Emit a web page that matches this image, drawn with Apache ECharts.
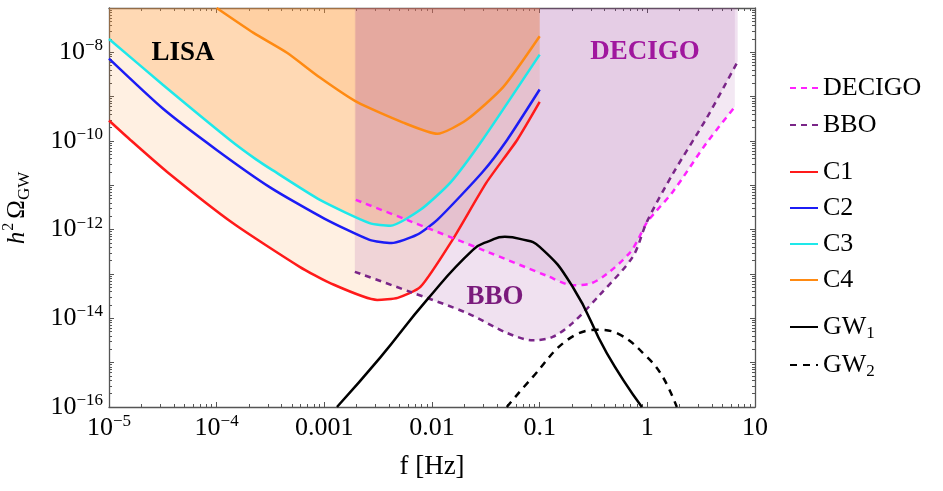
<!DOCTYPE html>
<html>
<head>
<meta charset="utf-8">
<script src="https://cdn.jsdelivr.net/npm/echarts@6/dist/echarts.min.js"></script>
<style>
  html, body { margin: 0; padding: 0; background: #fff; }
  #chart { width: 943px; height: 491px; }
</style>
</head>
<body>
<div id="chart"></div>
<script>
// ---- data ----
var xTickValues = [1e-5, 1e-4, 1e-3, 1e-2, 0.1, 1, 10];
var xTickLabels = ['10^-5', '10^-4', '0.001', '0.01', '0.1', '1', '10'];
var yTickValues = [1e-16, 1e-14, 1e-12, 1e-10, 1e-8];
var yTickLabels = ['10^-16', '10^-14', '10^-12', '10^-10', '10^-8'];

var c1Freq = [1e-5, 1.57e-5, 3.47e-5, 1.41e-4, 5.9e-4, 1.12e-3, 3.1e-3, 4.8e-3, 7.8e-3, 0.0155, 0.032, 0.062, 0.1];
var c1Val = [2.9e-10, 1.07e-10, 2.0e-11, 1.41e-12, 1.45e-13, 6.3e-14, 2.6e-14, 2.9e-14, 5.1e-14, 5.9e-13, 1.15e-11, 1.07e-10, 7.6e-10];

var c2Freq = [1e-5, 3.16e-5, 1e-4, 3.16e-4, 1e-3, 2.63e-3, 4.2e-3, 7.2e-3, 0.0112, 0.0295, 0.05, 0.1];
var c2Val = [7.2e-9, 5.4e-10, 6.3e-11, 8.9e-12, 1.78e-12, 5.9e-13, 5.0e-13, 7.6e-13, 1.66e-12, 2.0e-11, 1.07e-10, 1.45e-9];

var c3Freq = [1e-5, 3.16e-5, 1.32e-4, 2.34e-4, 3.3e-4, 9.1e-4, 2.63e-3, 4.1e-3, 7.8e-3, 0.0148, 0.0295, 0.1];
var c3Val = [2.0e-8, 1.86e-9, 1.07e-10, 3.8e-11, 2.2e-11, 4.7e-12, 1.41e-12, 1.23e-12, 2.8e-12, 1.15e-11, 1.07e-10, 8.9e-9];

var c4Freq = [1e-4, 2.2e-4, 4.5e-4, 9.1e-4, 2.0e-3, 5.4e-3, 0.0112, 0.021, 0.046, 0.1];
var c4Val = [1.0e-7, 2.75e-8, 9.8e-9, 2.7e-9, 7.6e-10, 2.6e-10, 1.45e-10, 3.0e-10, 1.66e-9, 2.3e-8];

var decigoFreq = [1.96e-3, 5.85e-3, 0.0324, 0.117, 0.203, 0.292, 0.42, 0.687, 0.834, 1.0, 1.72, 3.56, 6.5];
var decigoVal = [4.7e-12, 1.66e-12, 3.2e-13, 9.1e-14, 5.6e-14, 6.0e-14, 1.0e-13, 3.0e-13, 6.5e-13, 1.5e-12, 7.1e-12, 9.1e-11, 5.9e-10];

var bboFreq = [1.92e-3, 6.2e-3, 0.0211, 0.0495, 0.0865, 0.132, 0.203, 0.362, 0.733, 0.99, 1.72, 3.56, 6.9];
var bboVal = [1.12e-13, 4.0e-14, 1.32e-14, 4.7e-15, 3.2e-15, 3.8e-15, 7.9e-15, 3.4e-14, 2.45e-13, 1.5e-12, 1.8e-11, 3.3e-10, 6.2e-9];

var gw1Freq = [1.31e-3, 3.3e-3, 8.97e-3, 0.024, 0.0344, 0.0475, 0.0655, 0.1, 0.203, 0.42, 0.89];
var gw1Val = [1e-16, 1.3e-15, 2.6e-14, 3.5e-13, 5.6e-13, 6.9e-13, 6.2e-13, 4.1e-13, 5.1e-14, 1.65e-15, 1e-16];

var gw2Freq = [0.0495, 0.0865, 0.179, 0.34, 0.556, 0.99, 1.39, 1.88];
var gw2Val = [1e-16, 4.8e-16, 3.2e-15, 5.5e-15, 4.3e-15, 1.35e-15, 4.8e-16, 1e-16];

// ---- helpers ----
var FONT = 'Liberation Serif';
var XMIN = 1e-5, XMAX = 10, YMIN = 1e-16, YMAX = 1e-7;

function pairs(f, v) {
  return f.map(function (x, i) { return [x, v[i]]; });
}
function decades(a, b) {
  var out = [];
  for (var e = a; e <= b; e++) out.push(Math.pow(10, e));
  return out;
}
function minors(a, b) {
  var out = [];
  for (var e = a; e < b; e++) {
    for (var k = 2; k <= 9; k++) out.push(k * Math.pow(10, e));
  }
  return out;
}
function toRich(s) {
  var p = s.split('^');
  if (p.length === 1) return '{b|' + s + '}';
  return '{b|' + p[0] + '}{sup|' + p[1].replace('-', '\u2212') + '}';
}
function labelFor(values, labels) {
  return function (v) {
    for (var i = 0; i < values.length; i++) {
      if (Math.abs(Math.log10(values[i]) - Math.log10(v)) < 1e-6) return toRich(labels[i]);
    }
    return '';
  };
}

var tickRich = {
  b: { fontFamily: FONT, fontSize: 26, lineHeight: 30, color: '#000' },
  sup: { fontFamily: FONT, fontSize: 17, lineHeight: 18, verticalAlign: 'top', color: '#000' }
};
var axisColor = '#555';

function xAx(pos, major, withLabel) {
  return {
    type: 'log', logBase: 10, min: XMIN, max: XMAX, position: pos, gridIndex: 0,
    axisLine: { show: major, lineStyle: { color: axisColor, width: 1.3 } },
    axisTick: { show: true, inside: true, length: major ? 5 : 3,
      customValues: major ? decades(-5, 1) : minors(-5, 1),
      lineStyle: { color: axisColor, width: 1 } },
    axisLabel: withLabel ? {
      show: true, customValues: xTickValues, margin: 6,
      formatter: labelFor(xTickValues, xTickLabels), rich: tickRich
    } : { show: false },
    splitLine: { show: false }
  };
}
function yAx(pos, major, withLabel) {
  return {
    type: 'log', logBase: 10, min: YMIN, max: YMAX, position: pos, gridIndex: 0,
    axisLine: { show: major, lineStyle: { color: axisColor, width: 1.3 } },
    axisTick: { show: true, inside: true, length: major ? 5 : 3,
      customValues: major ? decades(-16, -7) : minors(-16, -7),
      lineStyle: { color: axisColor, width: 1 } },
    axisLabel: withLabel ? {
      show: true, customValues: yTickValues, margin: 6,
      formatter: labelFor(yTickValues, yTickLabels), rich: tickRich
    } : { show: false },
    splitLine: { show: false }
  };
}

function fill(name, data, color, smooth) {
  return {
    name: name, type: 'line', data: data, symbol: 'none', silent: true,
    smooth: smooth || false,
    lineStyle: { opacity: 0, width: 0 },
    areaStyle: { origin: 'end', color: color, opacity: 1 }
  };
}
function curve(name, data, color, dash, smooth) {
  return {
    name: name, type: 'line', data: data, symbol: 'none',
    smooth: smooth || false,
    lineStyle: { color: color, width: 2.5, type: dash || 'solid' },
    itemStyle: { color: color }
  };
}

var legendRich = {
  b: { fontFamily: FONT, fontSize: 26, lineHeight: 30, color: '#000' },
  sub: { fontFamily: FONT, fontSize: 17, lineHeight: 18, verticalAlign: 'bottom', color: '#000' }
};
function legendText(n) {
  var m = n.match(/^GW(\d)$/);
  return m ? '{b|GW}{sub|' + m[1] + '}' : '{b|' + n + '}';
}
function legendBox(names, top, gap) {
  return {
    data: names, orient: 'vertical', left: 789, top: top, itemGap: gap, padding: 0,
    itemWidth: 28, itemHeight: 14, selectedMode: false,
    itemStyle: { opacity: 0 },
    formatter: legendText,
    textStyle: { fontFamily: FONT, fontSize: 26, lineHeight: 30, color: '#000', rich: legendRich }
  };
}

var SM = 0.2;
var chart = echarts.init(document.getElementById('chart'));
var option = {
  animation: false,
  backgroundColor: '#fff',
  grid: { left: 109, right: 188, top: 8, bottom: 84, containLabel: false },
  xAxis: [
    Object.assign(xAx('bottom', true, true), {
      name: 'f [Hz]', nameLocation: 'middle', nameGap: 46,
      nameTextStyle: { fontFamily: FONT, fontSize: 27, color: '#000' }
    }),
    xAx('bottom', false, false),
    xAx('top', true, false),
    xAx('top', false, false)
  ],
  yAxis: [
    yAx('left', true, true),
    yAx('left', false, false),
    yAx('right', true, false),
    yAx('right', false, false)
  ],
  legend: [
    legendBox(['DECIGO', 'BBO'], 73, 7),
    legendBox(['C1', 'C2', 'C3', 'C4'], 157, 6),
    legendBox(['GW1', 'GW2'], 312, 8)
  ],
  graphic: [
    { type: 'text', x: 17, y: 208, rotation: Math.PI / 2, z: 100,
      style: { text: '{h|h}{sup|2}{o|\u03A9}{sub|GW}', align: 'center', verticalAlign: 'middle',
        rich: {
          h: { fontFamily: FONT, fontSize: 25, fontStyle: 'italic', lineHeight: 32, fill: '#000' },
          sup: { fontFamily: FONT, fontSize: 16, lineHeight: 20, verticalAlign: 'top', fill: '#000', padding: [0, 4, 0, 1] },
          o: { fontFamily: FONT, fontSize: 25, lineHeight: 32, fill: '#000' },
          sub: { fontFamily: FONT, fontSize: 17, lineHeight: 20, verticalAlign: 'bottom', fill: '#000' }
        } } },
    { type: 'text', x: 183, y: 53, z: 100, style: { text: 'LISA', font: 'bold 27px "Liberation Serif"', fill: '#000', align: 'center', verticalAlign: 'middle' } },
    { type: 'text', x: 645, y: 52, z: 100, style: { text: 'DECIGO', font: 'bold 27px "Liberation Serif"', fill: '#a0179e', align: 'center', verticalAlign: 'middle' } },
    { type: 'text', x: 495, y: 297, z: 100, style: { text: 'BBO', font: 'bold 27px "Liberation Serif"', fill: '#7a1a7c', align: 'center', verticalAlign: 'middle' } }
  ],
  series: [
    fill('fillC1', pairs(c1Freq, c1Val), 'rgba(255,150,50,0.14)', SM),
    fill('fillC3', pairs(c3Freq, c3Val), 'rgba(255,150,50,0.26)', SM),
    fill('fillC4', pairs(c4Freq, c4Val), 'rgba(255,150,50,0.135)', SM),
    curve('C1', pairs(c1Freq, c1Val), '#ff1a1a', 'solid', SM),
    curve('C2', pairs(c2Freq, c2Val), '#1c1cf5', 'solid', SM),
    curve('C3', pairs(c3Freq, c3Val), '#1ee8ea', 'solid', SM),
    curve('C4', pairs(c4Freq, c4Val), '#ff8a12', 'solid', SM),
    fill('fillBBO', pairs(bboFreq, bboVal), 'rgba(150,50,150,0.146)', 0.3),
    fill('fillDECIGO', pairs(decigoFreq, decigoVal), 'rgba(150,50,150,0.115)', 0.3),
    curve('DECIGO', pairs(decigoFreq, decigoVal), '#ff22ff', [6, 5], 0.3),
    curve('BBO', pairs(bboFreq, bboVal), '#7a2588', [6, 5], 0.3),
    curve('GW1', pairs(gw1Freq, gw1Val), '#000', 'solid', 0.5),
    curve('GW2', pairs(gw2Freq, gw2Val), '#000', [7, 6], 0.4)
  ]
};
chart.setOption(option);
</script>
</body>
</html>
